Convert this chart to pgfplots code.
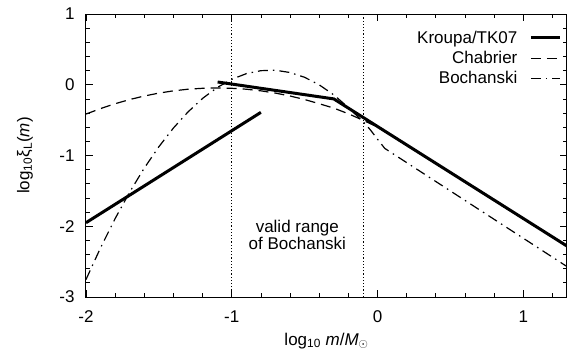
\documentclass[border=0pt]{standalone}
\usepackage{fontspec}
\setmainfont{Liberation Sans}
\usepackage{pgfplots}
\pgfplotsset{compat=1.18}
\newcommand{\bigf}{\fontsize{17}{19.5}\selectfont}
\begin{document}
\begin{tikzpicture}[font=\bigf]
\begin{axis}[at={(0,0)}, anchor=south west, scale only axis,
  width=481pt, height=283pt,
  xmin=-2, xmax=1.3, ymin=-3, ymax=1,
  xtick={-2,-1,0,1}, xticklabels={-2,-1,0,1},
  ytick={-3,-2,-1,0,1}, yticklabels={-3,-2,-1,0,1},
  minor xtick={-1.8,-1.6,-1.4,-1.2,-0.8,-0.6,-0.4,-0.2,0.2,0.4,0.6,0.8,1.2},
  minor ytick={-2.8,-2.6,-2.4,-2.2,-1.8,-1.6,-1.4,-1.2,-0.8,-0.6,-0.4,-0.2,0.2,0.4,0.6,0.8},
  tick align=inside, major tick length=7pt, minor tick length=4pt,
  tick style={black, line width=0.8pt},
  axis line style={line width=1pt},
  xticklabel style={font=\bigf, yshift=-10pt},
  yticklabel style={font=\bigf, xshift=-8pt},
  every axis x label/.style={at={(axis description cs:0.5,0)}, yshift=-44pt, anchor=center, font=\bigf},
  every axis y label/.style={at={(axis description cs:0,0.5)}, xshift=-61pt, rotate=90, anchor=center, font=\bigf},
  xlabel={log\textsubscript{10} \textit{m}/\textit{M}$_\odot$},
  ylabel={log\textsubscript{10}ξ\textsubscript{L}(\textit{m})},
  legend style={draw=none, fill=none, at={(rel axis cs:0.995,0.955)}, anchor=north east, font=\bigf, row sep=2.5pt,
    /tikz/every odd column/.append style={column sep=10pt}},
  legend cell align=right, legend plot pos=right,
  legend image code/.code={\draw[#1] (0pt,0pt) -- (29pt,0pt);},
]
% Kroupa/TK07 stellar part
\addplot[black, line width=3pt, line join=miter] coordinates {
  (-1.097,0.039) (-0.3,-0.2) (1.3,-2.28)
};
\addlegendentry{Kroupa/TK07}
% Chabrier
\addplot[black, line width=1.2pt, dash pattern=on 10pt off 6pt] coordinates {
  (-2.0,-0.414) (-1.9,-0.337) (-1.8,-0.268) (-1.7,-0.209) (-1.6,-0.159)
  (-1.5,-0.118) (-1.4,-0.086) (-1.3,-0.063) (-1.2,-0.050) (-1.1,-0.045)
  (-1.0,-0.050) (-0.9,-0.063) (-0.8,-0.086) (-0.7,-0.118) (-0.6,-0.159)
  (-0.5,-0.209) (-0.4,-0.268) (-0.3,-0.330) (-0.2,-0.410) (-0.1,-0.501)
  (0.0,-0.597) (1.3,-2.287)
};
\addlegendentry{Chabrier}
% Bochanski
\addplot[black, line width=1.2pt, dash pattern=on 10pt off 5pt on 1.5pt off 5pt] coordinates {
  (-2.0,-2.753) (-1.9,-2.304) (-1.8,-1.891) (-1.7,-1.516) (-1.6,-1.177)
  (-1.5,-0.876) (-1.4,-0.611) (-1.3,-0.384) (-1.2,-0.193) (-1.1,-0.039)
  (-1.0,0.077) (-0.9,0.157) (-0.8,0.199) (-0.7,0.205) (-0.6,0.173)
  (-0.5,0.105) (-0.4,-0.001) (-0.3,-0.143) (-0.2,-0.322) (-0.1,-0.520)
  (-0.05,-0.635) (0.0,-0.770) (0.05,-0.900) (1.3,-2.57)
};
\addlegendentry{Bochanski}
% Kroupa brown dwarf part
\addplot[black, line width=3pt, forget plot] coordinates {
  (-2,-1.95) (-0.8,-0.39)
};
% valid range markers
\addplot[black, line width=0.6pt, dash pattern=on 1.2pt off 2pt, forget plot] coordinates {(-1,-3) (-1,1)};
\addplot[black, line width=0.6pt, dash pattern=on 1.2pt off 2pt, forget plot] coordinates {(-0.1,-3) (-0.1,1)};
\node[align=center, font=\fontsize{17}{17.5}\selectfont] at (axis cs:-0.55,-2.12) {valid range\\of Bochanski};
\end{axis}
\pgfresetboundingbox
\path (-86pt,-65pt) rectangle (485pt,297pt);
\end{tikzpicture}
\end{document}
